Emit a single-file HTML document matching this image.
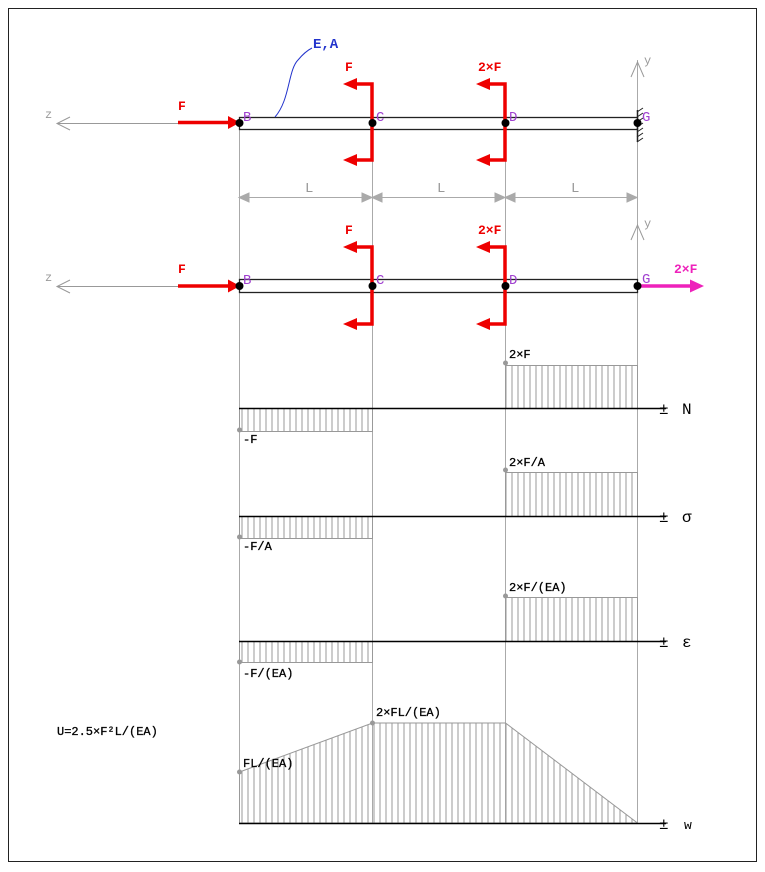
<!DOCTYPE html>
<html><head><meta charset="utf-8"><style>
html,body{margin:0;padding:0;background:#fff;}
svg{display:block;}
text{font-family:"Liberation Mono",monospace;}
</style></head><body>
<svg width="765" height="872" viewBox="0 0 765 872" xmlns="http://www.w3.org/2000/svg">
<defs>
<pattern id="h" width="6" height="10" patternUnits="userSpaceOnUse" x="239">
<line x1="3" y1="0" x2="3" y2="10" stroke="#999" stroke-width="1"/>
</pattern>
</defs>
<rect x="8.5" y="8.5" width="748" height="853" fill="#fff" stroke="#222" stroke-width="1"/>

<g stroke="#aaa" stroke-width="1">
<line x1="239.5" y1="129" x2="239.5" y2="823"/>
<line x1="372.5" y1="129" x2="372.5" y2="823"/>
<line x1="505.5" y1="129" x2="505.5" y2="823"/>
<line x1="637.5" y1="60" x2="637.5" y2="823"/>
</g>

<line x1="57" y1="123.5" x2="239" y2="123.5" stroke="#999"/>
<path d="M70,117 L57,123.5 L70,130" fill="none" stroke="#999"/>
<text x="45" y="118" font-size="12" fill="#999">z</text>
<path d="M631,77 L637.5,62 L644,77" fill="none" stroke="#999"/>
<text x="644" y="64" font-size="12" fill="#999">y</text>
<rect x="239.5" y="117.5" width="398" height="12" fill="#fff" stroke="#222" stroke-width="1.3"/>
<g stroke="#222" stroke-width="1">
<line x1="637" y1="112" x2="643" y2="108"/><line x1="637" y1="117" x2="643" y2="113"/><line x1="637" y1="122" x2="643" y2="118"/><line x1="637" y1="127" x2="643" y2="123"/><line x1="637" y1="132" x2="643" y2="128"/><line x1="637" y1="137" x2="643" y2="133"/><line x1="637" y1="142" x2="643" y2="138"/>
<line x1="637.5" y1="110" x2="637.5" y2="142" stroke-width="1.5"/>
</g>
<path d="M275,117 C290,100 288,70 298,60 C303,54 308,50 312,48" fill="none" stroke="#2233cc"/>
<text x="313" y="48" font-size="14" fill="#2233cc" font-weight="bold">E,A</text>

<g stroke="#e00" stroke-width="3.5" fill="none">
<line x1="178" y1="122.5" x2="228" y2="122.5"/>
<polyline points="372,122 372,84 356,84"/>
<polyline points="372,122 372,160 356,160"/>
<polyline points="505,122 505,84 489,84"/>
<polyline points="505,122 505,160 489,160"/>
</g>
<g fill="#e00">
<path d="M228,116 L240,122.5 L228,129 z"/>
<path d="M357,78 L343,84 L357,90 z"/>
<path d="M357,154 L343,160 L357,166 z"/>
<path d="M490,78 L476,84 L490,90 z"/>
<path d="M490,154 L476,160 L490,166 z"/>
</g>
<g font-size="13" fill="#e00" font-weight="bold">
<text x="178" y="110">F</text>
<text x="345" y="71">F</text>
<text x="478" y="71">2×F</text>
</g>
<g fill="#000"><circle cx="239.5" cy="123" r="4"/><circle cx="372.5" cy="123" r="4"/><circle cx="505.5" cy="123" r="4"/><circle cx="637.5" cy="123" r="4"/></g>
<g font-size="14" fill="#a040d0">
<text x="243" y="121">B</text><text x="376" y="121">C</text><text x="509" y="121">D</text><text x="642" y="121">G</text>
</g>

<g stroke="#aaa" fill="#aaa">
<line x1="239" y1="197.5" x2="637" y2="197.5"/>
<path d="M239,197.5 L249,193 L249,202 z"/><path d="M372,197.5 L362,193 L362,202 z"/>
<path d="M372,197.5 L382,193 L382,202 z"/><path d="M505,197.5 L495,193 L495,202 z"/>
<path d="M505,197.5 L515,193 L515,202 z"/><path d="M637,197.5 L627,193 L627,202 z"/>
</g>
<g font-size="14" fill="#999"><text x="305" y="192">L</text><text x="437" y="192">L</text><text x="571" y="192">L</text></g>

<line x1="57" y1="286.5" x2="239" y2="286.5" stroke="#999"/>
<path d="M70,280 L57,286.5 L70,293" fill="none" stroke="#999"/>
<text x="45" y="281" font-size="12" fill="#999">z</text>
<path d="M631,240 L637.5,225 L644,240" fill="none" stroke="#999"/>
<text x="644" y="227" font-size="12" fill="#999">y</text>
<rect x="239.5" y="279.5" width="398" height="13" fill="#fff" stroke="#222" stroke-width="1.3"/>
<g stroke="#e00" stroke-width="3.5" fill="none">
<line x1="178" y1="286" x2="228" y2="286"/>
<polyline points="372,286 372,247 356,247"/>
<polyline points="372,286 372,324 356,324"/>
<polyline points="505,286 505,247 489,247"/>
<polyline points="505,286 505,324 489,324"/>
</g>
<g fill="#e00">
<path d="M228,279.5 L240,286 L228,292.5 z"/>
<path d="M357,241 L343,247 L357,253 z"/>
<path d="M357,318 L343,324 L357,330 z"/>
<path d="M490,241 L476,247 L490,253 z"/>
<path d="M490,318 L476,324 L490,330 z"/>
</g>
<line x1="637" y1="286" x2="692" y2="286" stroke="#ee22bb" stroke-width="3.5"/>
<path d="M690,279.5 L704,286 L690,292.5 z" fill="#ee22bb"/>
<text x="674" y="273" font-size="13" fill="#ee22bb" font-weight="bold">2×F</text>
<g font-size="13" fill="#e00" font-weight="bold">
<text x="178" y="273">F</text>
<text x="345" y="234">F</text>
<text x="478" y="234">2×F</text>
</g>
<g fill="#000"><circle cx="239.5" cy="286" r="4"/><circle cx="372.5" cy="286" r="4"/><circle cx="505.5" cy="286" r="4"/><circle cx="637.5" cy="286" r="4"/></g>
<g font-size="14" fill="#a040d0">
<text x="243" y="284">B</text><text x="376" y="284">C</text><text x="509" y="284">D</text><text x="642" y="283">G</text>
</g>

<g stroke="#999" stroke-width="1">
<rect x="505.5" y="365.5" width="132" height="43" fill="url(#h)"/>
<rect x="239.5" y="408.5" width="133" height="23" fill="url(#h)"/>
<rect x="505.5" y="472.5" width="132" height="44" fill="url(#h)"/>
<rect x="239.5" y="516.5" width="133" height="22" fill="url(#h)"/>
<rect x="505.5" y="597.5" width="132" height="44" fill="url(#h)"/>
<rect x="239.5" y="641.5" width="133" height="21" fill="url(#h)"/>
<polygon points="239.5,772 372.5,723 505.5,723 637.5,823 239.5,823" fill="url(#h)"/>
</g>
<g fill="#999"><circle cx="505.5" cy="363" r="2.5"/><circle cx="239.5" cy="430" r="2.5"/><circle cx="505.5" cy="470" r="2.5"/><circle cx="239.5" cy="537" r="2.5"/><circle cx="505.5" cy="596" r="2.5"/><circle cx="239.5" cy="662" r="2.5"/><circle cx="372.5" cy="723" r="2.5"/><circle cx="239.5" cy="772" r="2.5"/></g>
<g stroke="#000" stroke-width="1.5">
<line x1="239" y1="408.5" x2="666" y2="408.5"/>
<line x1="239" y1="516.5" x2="666" y2="516.5"/>
<line x1="239" y1="641.5" x2="666" y2="641.5"/>
<line x1="239" y1="823.5" x2="666" y2="823.5"/>
</g>
<g font-size="12" fill="#000" stroke="#000" stroke-width="0.3">
<text x="509" y="358">2×F</text>
<text x="243" y="443">-F</text>
<text x="509" y="466">2×F/A</text>
<text x="243" y="550">-F/A</text>
<text x="509" y="591">2×F/(EA)</text>
<text x="243" y="677">-F/(EA)</text>
<text x="376" y="716">2×FL/(EA)</text>
<text x="243" y="767">FL/(EA)</text>
<text x="57" y="735">U=2.5×F²L/(EA)</text>
</g>
<g font-size="16" fill="#000">
<text x="659" y="414">±</text><text x="682" y="414" font-family="Liberation Serif, serif">N</text>
<text x="659" y="522">±</text><text x="682" y="522" font-family="Liberation Serif, serif">σ</text>
<text x="659" y="647">±</text><text x="682" y="647" font-family="Liberation Serif, serif">ε</text>
<text x="659" y="829">±</text><text x="684" y="829" font-family="Liberation Serif, serif" font-size="13">w</text>
</g>
</svg>
</body></html>
